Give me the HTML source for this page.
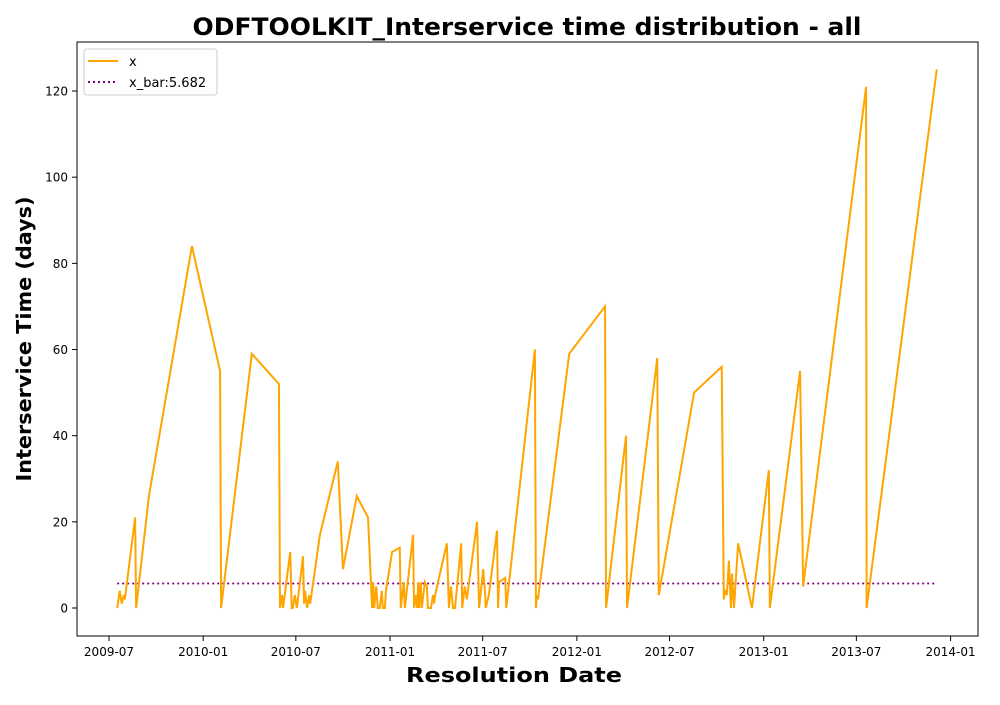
<!DOCTYPE html>
<html><head><meta charset="utf-8"><style>
body{margin:0;background:#fff;font-family:"Liberation Sans","DejaVu Sans",sans-serif}
</style></head><body>
<svg id="c" width="1000" height="700" xmlns="http://www.w3.org/2000/svg" font-family="DejaVu Sans, Liberation Sans, sans-serif">
<rect width="1000" height="700" fill="#fff"/>
<text x="527" y="35" text-anchor="middle" font-size="24" font-weight="bold" textLength="669" lengthAdjust="spacingAndGlyphs">ODFTOOLKIT_Interservice time distribution - all</text>
<g id="plot"></g>
<rect x="77" y="42" width="901" height="594" fill="none" stroke="#000" stroke-width="1"/>
<text x="514" y="682" text-anchor="middle" font-size="20" font-weight="bold" textLength="216" lengthAdjust="spacingAndGlyphs">Resolution Date</text>
<text transform="translate(31,339) rotate(-90)" text-anchor="middle" font-size="20" font-weight="bold" textLength="285" lengthAdjust="spacingAndGlyphs">Interservice Time (days)</text>
<g>
<rect x="84" y="49" width="133" height="46" rx="3" fill="#fff" stroke="#ccc"/>
<line x1="88" y1="61" x2="118" y2="61" stroke="orange" stroke-width="2"/>
<text x="129" y="66" font-size="13">x</text>
<line x1="88" y1="82" x2="118" y2="82" stroke="purple" stroke-width="2" stroke-dasharray="2,3"/>
<text x="129" y="87" font-size="13">x_bar:5.682</text>
</g>
</svg>
<script>
const days=[16,21,25,29,31,51,53,78,162,217,219,279,332,334,338,340,354,357,359,363,367,379,381,383,387,391,393,412,447,457,484,506,514,516,518,522,525,529,533,535,539,541,553,568,570,576,578,594,596,600,602,604,606,609,611,617,621,623,629,633,635,637,660,664,668,672,676,688,690,695,699,719,723,731,735,736,742,758,760,762,774,776,832,834,836,838,899,969,971,1010,1012,1071,1074,1143,1197,1201,1203,1207,1211,1215,1217,1221,1229,1256,1289,1291,1350,1356,1479,1480,1617];
const values=[0,4,1,3,2,21,0,26,84,55,0,59,52,0,3,0,13,0,0,3,0,12,1,4,0,3,1,17,34,9,26,21,0,6,0,5,0,0,4,0,0,4,13,14,0,6,0,17,0,3,0,6,0,6,0,6,5,0,0,3,1,3,15,0,5,0,0,15,0,5,2,20,0,9,3,0,3,18,0,6,7,0,60,0,3,2,59,70,0,40,0,58,3,50,56,2,4,3,11,0,8,0,15,0,32,0,55,5,121,0,125];
const xbar=[5.682];
const tickDays=[0,184,365,549,730,914,1095,1279,1460,1644];
const tickLabels=["2009-07","2010-01","2010-07","2011-01","2011-07","2012-01","2012-07","2013-01","2013-07","2014-01"];
const yTicks=[0,20,40,60,80,100,120];
const NS="http://www.w3.org/2000/svg";
const X=d=>109+d*0.5119;
const Y=v=>608-v*4.308;
const g=document.getElementById('plot');
function mk(t,a){const e=document.createElementNS(NS,t);for(const k in a)e.setAttribute(k,a[k]);g.appendChild(e);return e;}
tickDays.forEach((d,i)=>{
 const t=mk('line',{x1:X(d),x2:X(d),y1:636,y2:641,stroke:'#000'});
 
 
 const l=mk('text',{x:X(d),y:656,'text-anchor':'middle','font-size':'12'});
 l.textContent=tickLabels[i];
 
 
});
yTicks.forEach(v=>{
 const t=mk('line',{x1:72,x2:77,y1:Y(v),y2:Y(v),stroke:'#000'});
 
 
 const l=mk('text',{x:68,y:Y(v)+4.5,'text-anchor':'end','font-size':'12'});
 l.textContent=v;
 
 
});
const mean=mk('line',{x1:X(days[0]),x2:X(days[days.length-1]),y1:Y(xbar[0]),y2:Y(xbar[0]),stroke:'purple','stroke-width':1.8,'stroke-dasharray':'2,3'});


const pl=mk('polyline',{points:days.map((d,i)=>X(d)+','+Y(values[i])).join(' '),fill:'none',stroke:'orange','stroke-width':2,'stroke-linejoin':'miter'});


</script>
</body></html>
